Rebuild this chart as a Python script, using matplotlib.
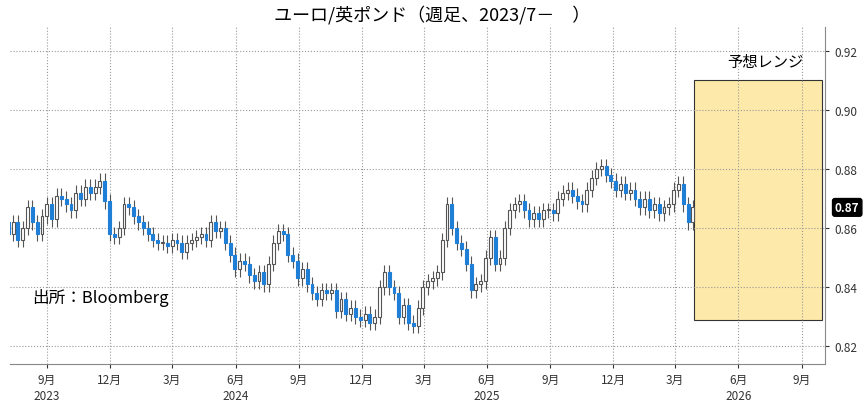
import matplotlib
matplotlib.use("Agg")
import matplotlib.pyplot as plt
import matplotlib.dates as mdates
from matplotlib.patches import Rectangle
import pandas as pd

plt.rcParams['font.family'] = ['Noto Sans CJK JP', 'DejaVu Sans']

closes = [.858,.862,.856,
 .860,.867,.862,.858, .864,.868,.863,.871,.870, .868,.866,.872,.870,
 .874,.872,.874,.876, .869,.858,.857,.860,.868,
 .867,.864,.862,.860, .858,.856,.855,.855, .854,.856,.855,.852,.855,
 .856,.857,.858,.856, .862,.859,.860,.855,.851, .846,.849,.848,.844,
 .842,.845,.841,.848, .855,.859,.858,.851,.849, .843,.846,.841,.838,
 .836,.839,.838,.839, .832,.836,.831,.833,.830, .829,.831,.828,.830,
 .840,.845,.840,.838,.830, .834,.828,.827,.833, .840,.842,.843,.845,
 .856,.868,.860,.855, .853,.848,.839,.841,.842, .850,.857,.848,.850,
 .860,.866,.868,.869, .866,.863,.865,.863,.866, .866,.865,.870,.872,
 .873,.871,.869,.868,.873, .877,.880,.881,.878, .876,.873,.875,.872,
 .873,.870,.867,.870,.866, .868,.865,.867,.868, .873,.875,.868,.862,.867]
first_open = .862
wick = 0.0025
range_low, range_high = 0.829, 0.910
range_start, range_end = "2026-03-29", "2026-10-01"
last_label = "0.87"

dates = pd.date_range(end="2026-03-27", periods=len(closes), freq="7D")
opens = [first_open] + closes[:-1]

fig = plt.figure(figsize=(8.64, 4.02), dpi=100)
ax = fig.add_axes([0.012, 0.092, 0.943, 0.838])
x = mdates.date2num(dates)
w = 4.2
for xi, o, c in zip(x, opens, closes):
    hi, lo = max(o, c) + wick, min(o, c) - wick
    up = c >= o
    ax.vlines(xi, lo, hi, color='#555555', lw=0.8, zorder=2)
    ax.add_patch(Rectangle((xi - w/2, min(o, c)), w, max(abs(c - o), 0.0004),
                           facecolor='white' if up else '#1f7fd6',
                           edgecolor='#555555' if up else '#1f7fd6', lw=0.8, zorder=3))

x0, x1 = mdates.datestr2num(range_start), mdates.datestr2num(range_end)
ax.add_patch(Rectangle((x0, range_low), x1 - x0, range_high - range_low,
                       facecolor='#fde9a9', edgecolor='#333333', lw=0.8, zorder=1))
ax.text(mdates.datestr2num("2026-07-10"), 0.9165, "予想レンジ", ha='center', va='center', fontsize=11)
ax.text(mdates.datestr2num("2023-08-10"), 0.8335, "出所：Bloomberg", fontsize=12, va='bottom')

ax.set_xlim(mdates.datestr2num("2023-07-10"), mdates.datestr2num("2026-10-05"))
ax.set_ylim(0.814, 0.928)
ax.yaxis.tick_right()
ax.set_yticks([0.82, 0.84, 0.86, 0.88, 0.90, 0.92])
ax.set_yticklabels(["0.82", "0.84", "0.86", "0.88", "0.90", "0.92"], fontsize=8.5)
months = pd.date_range("2023-09-01", "2026-09-01", freq="3MS")
ax.set_xticks(mdates.date2num(months))
ax.set_xticklabels([f"{m.month}月" for m in months], fontsize=8.5)
for yr, d in [("2023", "2023-09-01"), ("2024", "2024-06-01"), ("2025", "2025-06-01"), ("2026", "2026-06-01")]:
    ax.text(mdates.datestr2num(d), -0.075, yr, transform=ax.get_xaxis_transform(),
            ha='center', va='top', fontsize=8.5, color='#333333')
ax.grid(True, ls=':', color='#999999', lw=0.8)
ax.tick_params(length=3, colors='#333333')
for s in ['top', 'left']:
    ax.spines[s].set_visible(False)
ax.spines['bottom'].set_color('#888888')
ax.spines['right'].set_color('#888888')
ax.text(1.012, closes[-1], last_label, transform=ax.get_yaxis_transform(), va='center',
        ha='left', fontsize=8.5, color='white', fontweight='bold',
        bbox=dict(boxstyle='round,pad=0.2', fc='black', ec='black'))
fig.suptitle("ユーロ/英ポンド（週足、2023/7－　）", fontsize=13, y=0.985)
fig.savefig("out.png", dpi=100)
